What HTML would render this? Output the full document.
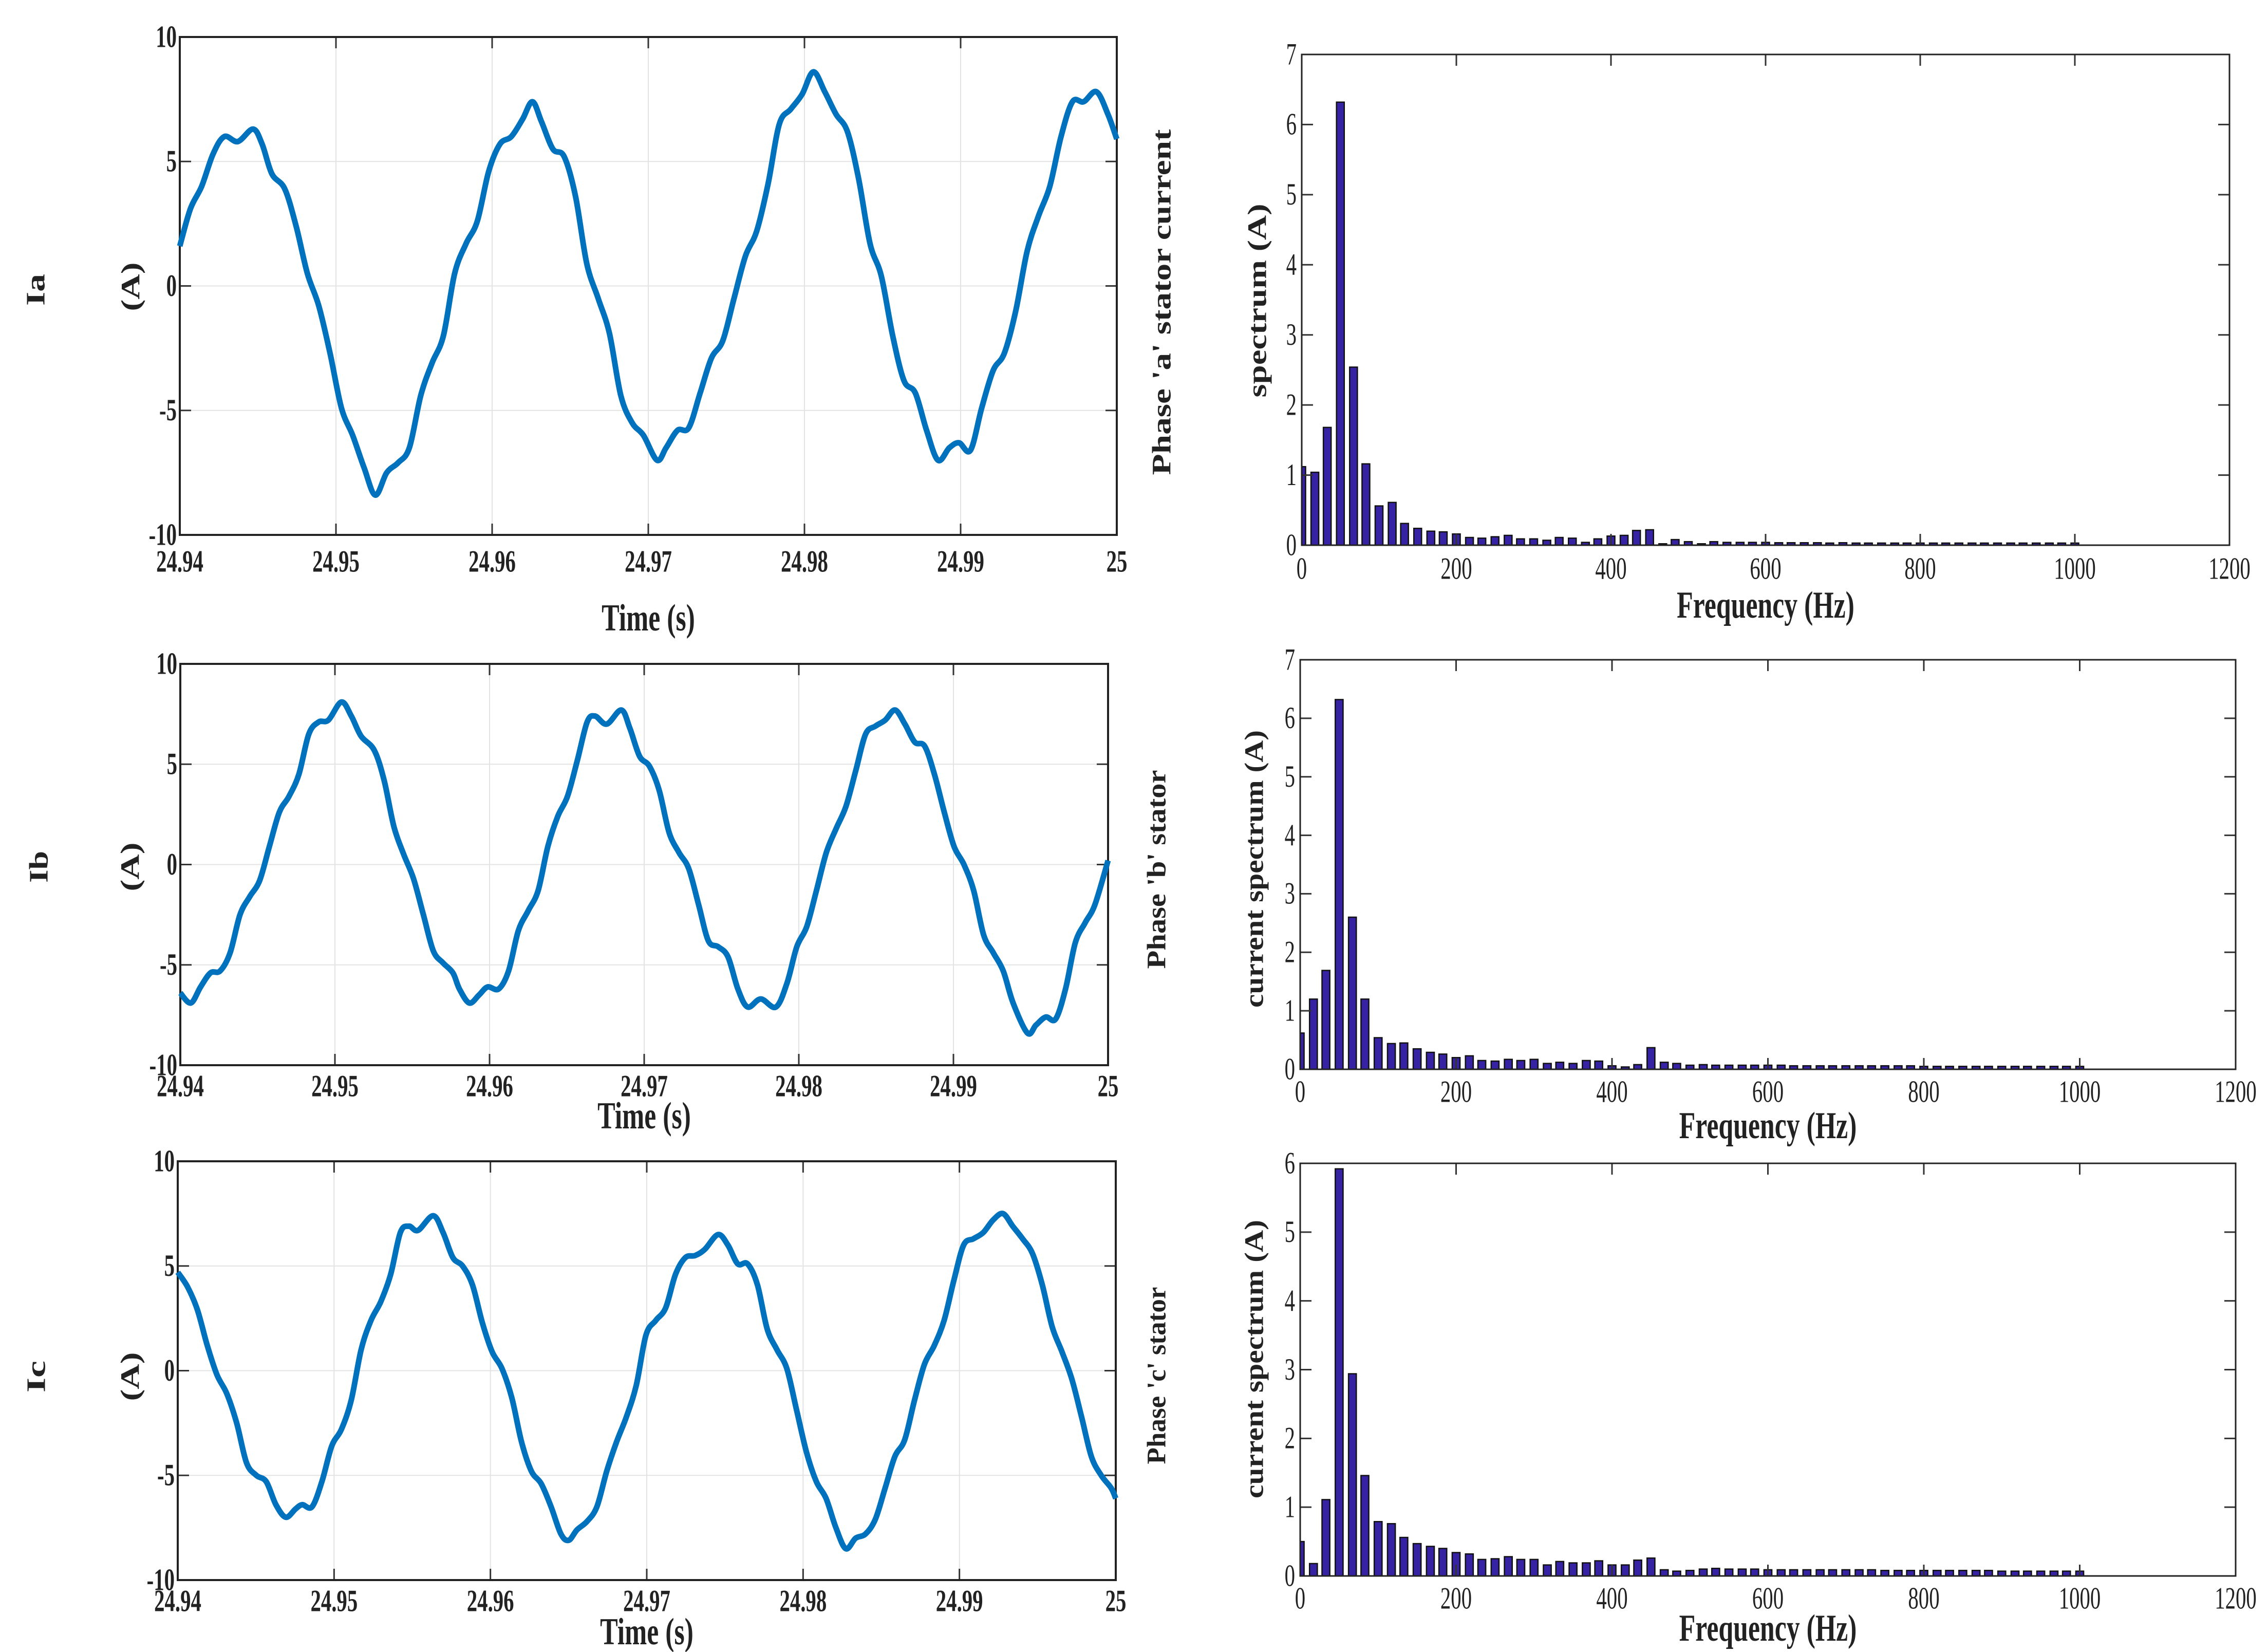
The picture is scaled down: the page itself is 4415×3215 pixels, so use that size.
<!DOCTYPE html>
<html><head><meta charset="utf-8">
<style>
html,body{margin:0;padding:0;background:#fff;}
svg{display:block;}
</style></head>
<body>
<svg id="fig" width="4415" height="3215" viewBox="0 0 4415 3215" xmlns="http://www.w3.org/2000/svg"></svg>
<script>
// ---------- Time-domain data (ms offset from 24.94 s, current in A) ----------
const iaT=[0,0.68,1.40,2.13,2.85,3.72,4.69,5.27,5.90,6.72,7.45,8.17,8.90,9.62,10.35,11.07,11.80,12.52,13.25,13.98,14.70,15.43,16.15,16.88,17.60,18.33,19.05,19.78,20.50,21.23,21.95,22.58,23.16,23.89,24.61,25.34,26.06,26.79,27.51,28.24,28.97,29.69,30.56,31.14,31.87,32.59,33.32,34.04,34.77,35.49,36.22,36.94,37.67,38.39,39.12,39.85,40.57,41.30,42.02,42.75,43.47,44.20,44.92,45.65,46.37,47.10,47.82,48.55,49.28,49.90,50.63,51.35,52.08,52.80,53.53,54.26,54.98,55.71,56.43,57.16,57.88,58.70,59.43,60];
const iaV=[1.6,3.1,4.0,5.3,6.0,5.8,6.3,5.7,4.5,3.9,2.4,0.5,-0.8,-2.7,-4.9,-6.0,-7.3,-8.4,-7.5,-7.1,-6.5,-4.4,-3.1,-2.0,0.5,1.7,2.6,4.6,5.7,6.0,6.7,7.4,6.6,5.5,5.2,3.6,0.9,-0.5,-1.9,-4.4,-5.5,-6.0,-7.0,-6.5,-5.8,-5.7,-4.3,-2.9,-2.2,-0.5,1.2,2.2,4.1,6.5,7.1,7.7,8.6,7.8,6.9,6.2,4.3,1.7,0.4,-2.0,-3.8,-4.3,-5.8,-7.0,-6.5,-6.3,-6.6,-4.9,-3.4,-2.7,-1.0,1.4,2.8,4.0,6.0,7.4,7.4,7.8,6.9,5.9];
const ibT=[0,0.68,1.31,1.95,2.58,3.22,3.86,4.49,5.13,5.76,6.40,7.03,7.67,8.31,8.94,9.58,10.42,11.06,11.69,12.54,13.18,13.81,14.45,15.08,15.72,16.36,16.99,17.63,18.05,18.69,19.32,19.87,20.59,21.23,21.86,22.50,23.14,23.77,24.41,25.04,25.68,26.31,26.82,27.58,28.52,29.07,29.70,30.34,30.97,31.61,32.25,32.88,33.52,34.15,34.79,35.42,36.06,36.69,37.54,38.52,39.24,39.87,40.51,41.14,41.78,42.42,43.05,43.69,44.32,44.96,45.59,46.23,46.86,47.50,48.14,48.77,49.41,50.04,50.68,51.31,51.95,52.58,53.22,53.86,54.79,55.34,55.97,56.61,57.25,57.88,58.52,59.15,60];
const ibV=[-6.4,-6.9,-6.1,-5.4,-5.3,-4.4,-2.5,-1.6,-0.8,0.9,2.6,3.4,4.5,6.5,7.1,7.2,8.1,7.4,6.4,5.7,4.2,1.9,0.5,-0.7,-2.5,-4.3,-4.9,-5.4,-6.2,-6.9,-6.5,-6.1,-6.2,-5.3,-3.3,-2.3,-1.3,0.9,2.4,3.4,5.2,7.1,7.4,7.0,7.7,6.8,5.4,4.9,3.7,1.6,0.6,-0.2,-2.0,-3.8,-4.1,-4.6,-6.2,-7.1,-6.7,-7.1,-5.9,-4.1,-3.1,-1.3,0.6,1.8,2.9,4.7,6.5,6.9,7.2,7.7,7.0,6.1,5.9,4.5,2.6,0.9,0.0,-1.3,-3.5,-4.4,-5.3,-6.9,-8.4,-8.0,-7.6,-7.7,-6.2,-3.9,-2.9,-2.0,0.2];
const icT=[0,0.63,1.26,1.89,2.51,3.14,3.77,4.40,5.03,5.66,6.28,6.91,7.54,7.96,8.59,9.22,9.85,10.47,11.10,11.73,12.36,12.99,13.62,14.24,14.79,15.37,16.34,16.97,17.60,18.22,18.85,19.48,20.11,20.74,21.37,21.99,22.62,23.25,23.88,24.51,25.01,25.54,26.18,26.81,27.44,28.07,28.70,29.33,29.95,30.58,31.21,31.84,32.47,33.10,33.72,34.56,35.19,35.82,36.45,37.08,37.70,38.33,38.96,39.59,40.22,40.85,41.47,42.10,42.73,43.36,43.99,44.62,45.25,45.87,46.50,47.13,47.76,48.39,49.02,49.64,50.27,50.90,51.53,52.16,52.79,53.41,54.04,54.67,55.30,55.93,56.56,57.19,57.81,58.44,59.07,59.70,60];
const icV=[4.7,4.0,2.9,1.2,-0.2,-1.1,-2.5,-4.4,-5.0,-5.3,-6.4,-7.0,-6.6,-6.4,-6.5,-5.3,-3.6,-2.8,-1.4,1.0,2.4,3.3,4.6,6.6,6.9,6.7,7.4,6.6,5.4,5.0,4.1,2.3,0.9,0.1,-1.3,-3.4,-4.8,-5.4,-6.5,-7.8,-8.1,-7.6,-7.2,-6.5,-4.8,-3.4,-2.2,-0.7,1.7,2.4,3.0,4.6,5.4,5.5,5.8,6.5,6.0,5.1,5.1,4.1,2.0,1.0,0.1,-1.9,-3.9,-5.3,-6.1,-7.5,-8.5,-8.0,-7.8,-7.1,-5.6,-4.1,-3.3,-1.4,0.3,1.2,2.4,4.3,6.0,6.3,6.6,7.2,7.5,6.9,6.3,5.6,4.1,2.1,0.9,-0.4,-2.2,-4.1,-5.0,-5.6,-6.1];
const timeTicks=["24.94","24.95","24.96","24.97","24.98","24.99","25"];
const currentTicks=[-10,-5,0,5,10];
// ---------- Spectrum data ----------
const freqs=[0,17,33,50,67,83,100,117,133,150,167,183,200,217,233,250,267,283,300,317,333,350,367,383,400,417,433,450,467,483,500,517,533,550,567,583,600,617,633,650,667,683,700,717,733,750,767,783,800,817,833,850,867,883,900,917,933,950,967,983,1000];
const specA=[1.12,1.04,1.68,6.32,2.54,1.16,0.56,0.61,0.31,0.24,0.20,0.19,0.16,0.11,0.10,0.12,0.14,0.09,0.09,0.07,0.11,0.10,0.04,0.09,0.13,0.14,0.21,0.22,0.02,0.08,0.05,0.02,0.05,0.04,0.04,0.04,0.04,0.035,0.035,0.035,0.035,0.03,0.035,0.03,0.03,0.03,0.03,0.03,0.03,0.03,0.03,0.03,0.03,0.03,0.03,0.03,0.03,0.03,0.03,0.03,0.03];
const specB=[0.62,1.20,1.69,6.32,2.60,1.20,0.54,0.44,0.45,0.35,0.29,0.26,0.20,0.23,0.15,0.14,0.17,0.15,0.17,0.10,0.12,0.10,0.15,0.14,0.06,0.04,0.08,0.37,0.12,0.10,0.07,0.08,0.07,0.07,0.07,0.07,0.07,0.07,0.06,0.06,0.06,0.06,0.06,0.06,0.06,0.06,0.06,0.06,0.05,0.05,0.05,0.05,0.05,0.05,0.05,0.05,0.05,0.05,0.05,0.05,0.05];
const specC=[0.50,0.18,1.11,5.92,2.94,1.46,0.79,0.76,0.56,0.47,0.43,0.40,0.34,0.32,0.24,0.25,0.28,0.24,0.24,0.16,0.21,0.19,0.19,0.22,0.16,0.16,0.23,0.26,0.09,0.07,0.08,0.10,0.11,0.10,0.10,0.10,0.09,0.09,0.09,0.09,0.09,0.09,0.09,0.09,0.09,0.08,0.08,0.08,0.08,0.08,0.08,0.08,0.08,0.08,0.07,0.07,0.07,0.07,0.07,0.07,0.07];
const freqTicks=[0,200,400,600,800,1000,1200];
const ampTicks7=[0,1,2,3,4,5,6,7];
const ampTicks6=[0,1,2,3,4,5,6];

const NS="http://www.w3.org/2000/svg";
const svg=document.getElementById('fig');
function mk(tag,parent){const e=document.createElementNS(NS,tag);(parent||svg).appendChild(e);return e;}
function txt(parent,x,y,s,size,weight,anchor,sx,rot,len){
  const t=mk('text',parent);
  t.setAttribute('transform',`translate(${x},${y}) rotate(${rot||0}) scale(${sx||1},1)`);
  t.setAttribute('font-family','"Liberation Serif", serif');
  t.setAttribute('font-size',size);
  t.setAttribute('font-weight',weight||'bold');
  t.setAttribute('text-anchor',anchor||'middle');
  t.setAttribute('dominant-baseline','central');
  t.setAttribute('fill','#222');
  if(len){t.setAttribute('textLength',len);t.setAttribute('lengthAdjust','spacingAndGlyphs');}
  t.textContent=s;return t;
}
function line(parent,x1,y1,x2,y2,c,w){const l=mk('line',parent);l.setAttribute('x1',x1);l.setAttribute('y1',y1);l.setAttribute('x2',x2);l.setAttribute('y2',y2);l.setAttribute('stroke',c);l.setAttribute('stroke-width',w);return l;}

function timePlot(cfg,T,V){
  const g=mk('g');
  
  
  const {x0,x1,y0,y1}=cfg;
  const sx=ms=>x0+(ms/60)*(x1-x0);
  const sy=v=>y1-(v+10)/20*(y1-y0);
  timeTicks.forEach((lab,i)=>{const x=sx(i*10);
    if(i>0&&i<6){const gl=line(g,x,y0,x,y1,'#e3e3e3',2);
      
      
      line(g,x,y0,x,y0+22,'#333',3);line(g,x,y1,x,y1-22,'#333',3);}
    const t=txt(g,x,cfg.tickY,lab,60,'bold','middle',0.68);
    
    
  });
  currentTicks.forEach(v=>{const y=sy(v);
    if(v>-10&&v<10){const gl=line(g,x0,y,x1,y,'#e3e3e3',2);
      
      
      line(g,x0,y,x0+22,y,'#333',3);line(g,x1,y,x1-22,y,'#333',3);}
    const t=txt(g,x0-6,y,String(v),60,'bold','end',0.68);
    
    
  });
  const r=mk('rect',g);r.setAttribute('x',x0);r.setAttribute('y',y0);r.setAttribute('width',x1-x0);r.setAttribute('height',y1-y0);
  r.setAttribute('fill','none');r.setAttribute('stroke','#222');r.setAttribute('stroke-width',4);
  
  
  const P=T.map((t,i)=>[sx(t),sy(V[i])]);
  let d=`M${P[0][0]},${P[0][1]}`;
  for(let i=0;i<P.length-1;i++){
    const p0=P[Math.max(0,i-1)],p1=P[i],p2=P[i+1],p3=P[Math.min(P.length-1,i+2)];
    const c1=[p1[0]+(p2[0]-p0[0])/6,p1[1]+(p2[1]-p0[1])/6];
    const c2=[p2[0]-(p3[0]-p1[0])/6,p2[1]-(p3[1]-p1[1])/6];
    d+=` C${c1[0]},${c1[1]} ${c2[0]},${c2[1]} ${p2[0]},${p2[1]}`;
  }
  const path=mk('path',g);path.setAttribute('d',d);path.setAttribute('fill','none');
  path.setAttribute('stroke','#0072BD');path.setAttribute('stroke-width',11);path.setAttribute('stroke-linejoin','round');
  
  
  const xl=txt(g,(x0+x1)/2,cfg.labY,'Time (s)',74,'bold','middle',0.7);
  
  
}

function specPlot(cfg,S,ticks){
  const g=mk('g');
  
  
  const {x0,x1,y0,y1,ymax}=cfg;
  const sx=f=>x0+f/1200*(x1-x0);
  const sy=v=>y1-v/ymax*(y1-y0);
  const cid='clip'+cfg.name;
  const cp=mk('clipPath',g);cp.setAttribute('id',cid);
  const cr=mk('rect',cp);cr.setAttribute('x',x0);cr.setAttribute('y',y0);cr.setAttribute('width',x1-x0);cr.setAttribute('height',y1-y0);
  const bg=mk('g',g);bg.setAttribute('clip-path',`url(#${cid})`);
  const bw=(sx(10)-sx(0));
  freqs.forEach((f,i)=>{
    const b=mk('rect',bg);
    
    
    const x=sx(f)-bw/2,y=sy(S[i]);
    b.setAttribute('x',x);b.setAttribute('y',y);b.setAttribute('width',bw);b.setAttribute('height',Math.max(1,y1-y));
    b.setAttribute('fill','#3623a3');b.setAttribute('stroke','#111');b.setAttribute('stroke-width',2.5);
  });
  freqTicks.forEach(f=>{const x=sx(f);
    if(f>0&&f<1200){line(g,x,y1,x,y1-22,'#333',3);line(g,x,y0,x,y0+22,'#333',3);}
    const t=txt(g,x,cfg.tickY,String(f),60,'normal','middle',0.68);
    
    
  });
  ticks.forEach(v=>{const y=sy(v);
    if(v>0&&v<ymax){line(g,x0,y,x0+22,y,'#333',3);line(g,x1,y,x1-22,y,'#333',3);}
    const t=txt(g,x0-10,y,String(v),60,'normal','end',0.68);
    
    
  });
  const r=mk('rect',g);r.setAttribute('x',x0);r.setAttribute('y',y0);r.setAttribute('width',x1-x0);r.setAttribute('height',y1-y0);
  r.setAttribute('fill','none');r.setAttribute('stroke','#222');r.setAttribute('stroke-width',3);
  
  
  const xl=txt(g,(x0+x1)/2,cfg.labY,'Frequency (Hz)',74,'bold','middle',0.7);
  
  
}

timePlot({name:'ia-time-plot',x0:350,x1:2174,y0:72,y1:1041,tickY:1093,labY:1202},iaT,iaV);
timePlot({name:'ib-time-plot',x0:351,x1:2157,y0:1292,y1:2073,tickY:2114,labY:2171},ibT,ibV);
timePlot({name:'ic-time-plot',x0:346,x1:2172,y0:2260,y1:3075,tickY:3116,labY:3175},icT,icV);
specPlot({name:'ia-spectrum-plot',x0:2534,x1:4340,y0:106,y1:1061,ymax:7,tickY:1107,labY:1177},specA,ampTicks7);
specPlot({name:'ib-spectrum-plot',x0:2531,x1:4352,y0:1284,y1:2081,ymax:7,tickY:2125,labY:2190},specB,ampTicks7);
specPlot({name:'ic-spectrum-plot',x0:2531,x1:4352,y0:2264,y1:3067,ymax:6,tickY:3111,labY:3168},specC,ampTicks6);

const labels=[
 ['ia-row-label','Ia',70,564,62],['ia-unit-label','(A)',255,558,95],
 ['ib-row-label','Ib',76,1687,62],['ib-unit-label','(A)',254,1687,95],
 ['ic-row-label','Ic',71,2679,62],['ic-unit-label','(A)',254,2679,95],
 ['ia-spectrum-title-1',"Phase 'a' stator current",2262,588,673],['ia-spectrum-title-2','spectrum (A)',2448,585,377],
 ['ib-spectrum-title-1',"Phase 'b' stator",2252,1692,387],['ib-spectrum-title-2','current spectrum (A)',2442,1691,540],
 ['ic-spectrum-title-1',"Phase 'c' stator",2252,2677,345],['ic-spectrum-title-2','current spectrum (A)',2442,2645,542]
];
labels.forEach(L=>{
  const t=txt(svg,L[2],L[3],L[1],52,'bold','middle',1,-90,L[4]);
  
  
});
</script>
</body></html>
